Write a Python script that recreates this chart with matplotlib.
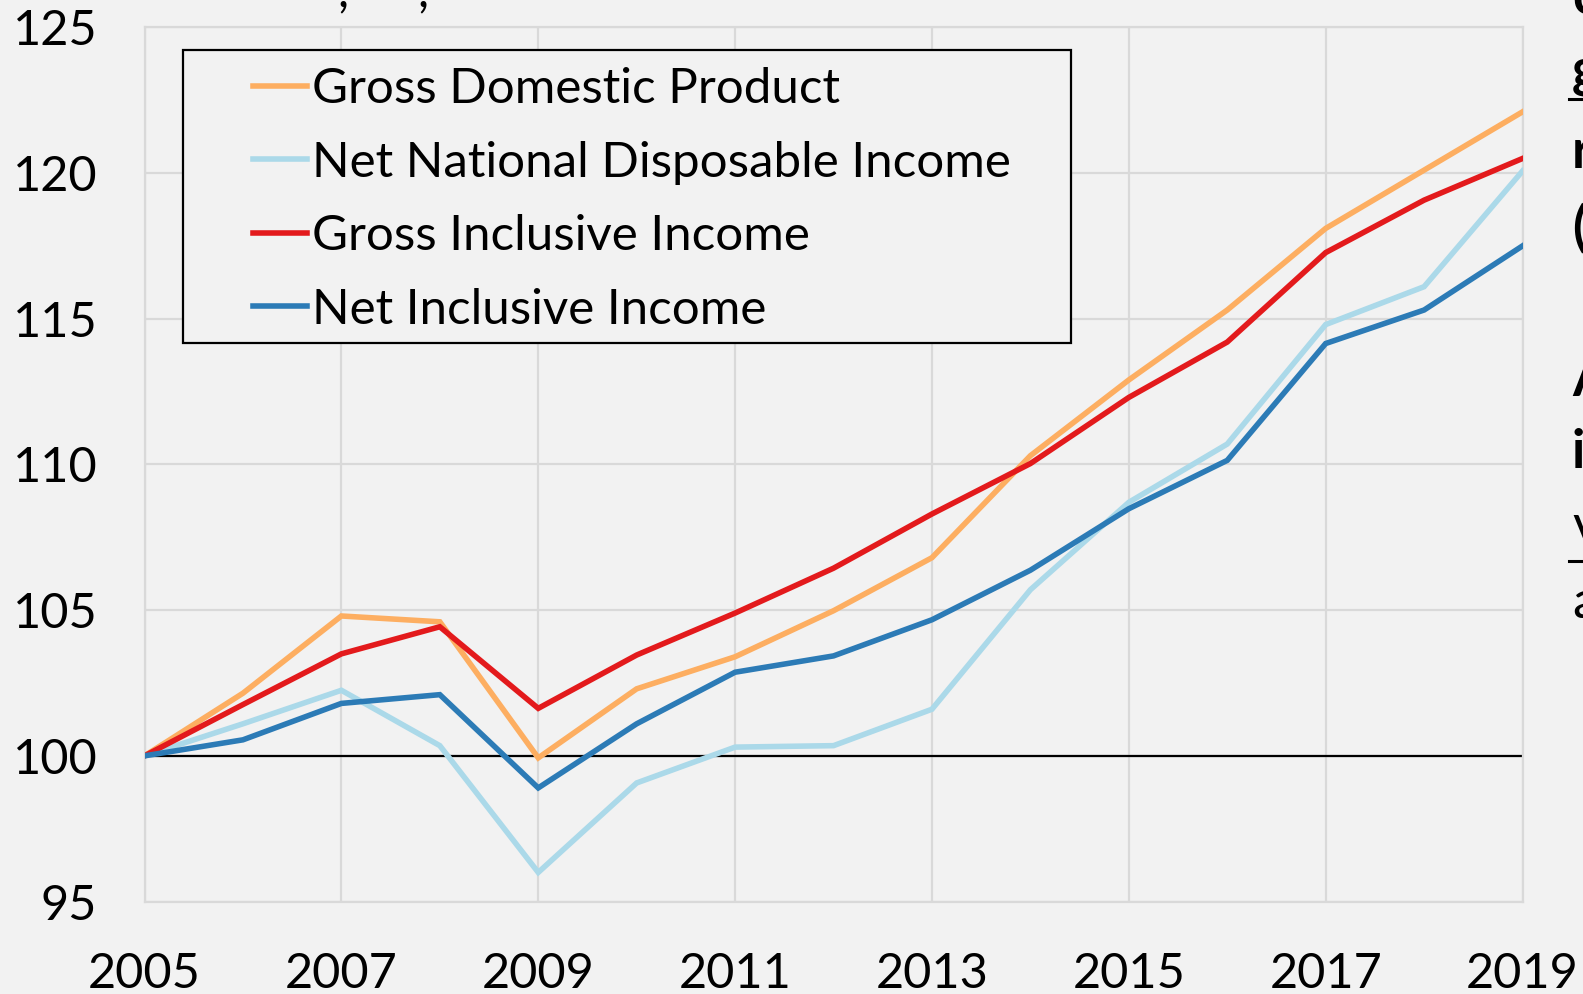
import numpy as np
import matplotlib
matplotlib.use("Agg")
import matplotlib.pyplot as plt
from matplotlib.patches import Rectangle
from matplotlib.lines import Line2D

# data (index, 2005 = 100)
years = [2005, 2006, 2007, 2008, 2009, 2010, 2011, 2012, 2013, 2014, 2015, 2016, 2017, 2018, 2019]
gdp = [100, 102.15, 104.8, 104.6, 99.93, 102.3, 103.4, 104.98, 106.8, 110.3, 112.9, 115.3, 118.1, 120.1, 122.1]
nndi = [100, 101.1, 102.25, 100.35, 96.0, 99.07, 100.3, 100.35, 101.6, 105.7, 108.7, 110.7, 114.8, 116.1, 120.07]
gii = [100, 101.76, 103.5, 104.43, 101.63, 103.46, 104.9, 106.44, 108.3, 110.03, 112.3, 114.2, 117.27, 119.07, 120.5]
nii = [100, 100.55, 101.8, 102.1, 98.9, 101.1, 102.87, 103.43, 104.67, 106.37, 108.48, 110.14, 114.15, 115.3, 117.5]

labels = ["Gross Domestic Product", "Net National Disposable Income",
          "Gross Inclusive Income", "Net Inclusive Income"]
colors = ["#fdae61", "#abd9e9", "#e31a1c", "#2c7bb6"]

xticks = [2005, 2007, 2009, 2011, 2013, 2015, 2017, 2019]
yticks = [95, 100, 105, 110, 115, 120, 125]

plt.rcParams['font.family'] = ['Lato', 'DejaVu Sans']
bg = "#f2f2f2"
grid_c = "#d9d9d9"

fig = plt.figure(figsize=(15.83, 9.94), dpi=100, facecolor=bg)
ax = fig.add_axes([0.0913, 0.0930, 0.8705, 0.8795], facecolor=bg)

# reference line at 100
ax.axhline(100, color="black", lw=1.6, zorder=2)

for vals, lab, c in zip([gdp, nndi, gii, nii], labels, colors):
    ax.plot(years, vals, color=c, lw=4.0, label=lab, zorder=3,
            solid_joinstyle="miter")

ax.set_xlim(2005, 2019)
ax.set_ylim(95, 125)
ax.set_xticks(xticks)
ax.set_yticks(yticks)
ax.grid(True, color=grid_c, lw=1.6, zorder=0)
ax.set_axisbelow(True)
for s in ax.spines.values():
    s.set_color(grid_c)
    s.set_linewidth(1.6)
ax.tick_params(axis="both", length=0, labelsize=35, colors="black")
ax.tick_params(axis="x", pad=36)
ax.tick_params(axis="y", pad=34)

# legend box drawn as a plain rectangle, legend itself without a frame
box = Rectangle((183 / 1583, 1 - 343 / 994), 888 / 1583, 293.5 / 994,
                transform=fig.transFigure, facecolor=bg, edgecolor="black",
                lw=1.6, zorder=5)
ax.add_artist(box)
box.set_clip_on(False)

leg = ax.legend(loc="upper left", bbox_to_anchor=(253 / 1583, 1 - 67 / 994),
                bbox_transform=fig.transFigure, frameon=False, fontsize=35.5,
                handlelength=1.1, handletextpad=0.1, borderpad=0,
                labelspacing=0.6, borderaxespad=0)
leg.set_zorder(6)
for h in leg.legend_handles:
    h.set_linewidth(4.0)

# fragments of the surrounding slide text that show at the edges
side = [("c", -2, True), ("g", 72, True), ("r", 152, True),
        ("(", 228, True), ("A", 380, True), ("i", 452, True),
        ("v", 527, False), ("a", 604, False)]
for ch, yc, bold in side:
    fig.text(1572 / 1583, 1 - yc / 994, ch, fontsize=38,
             fontweight="bold" if bold else "normal", va="center", ha="left")
# underlines below "g" and "v"
for yu in [99, 561]:
    fig.add_artist(Line2D([1569 / 1583, 1.0], [1 - yu / 994, 1 - yu / 994],
                          color="black", lw=2.2, transform=fig.transFigure))
for xc in [337, 417]:
    fig.text(xc / 1583, 1 + 8 / 994, ",", fontsize=35, ha="left", va="center")

fig.savefig("out.png", dpi=100, facecolor=bg)
